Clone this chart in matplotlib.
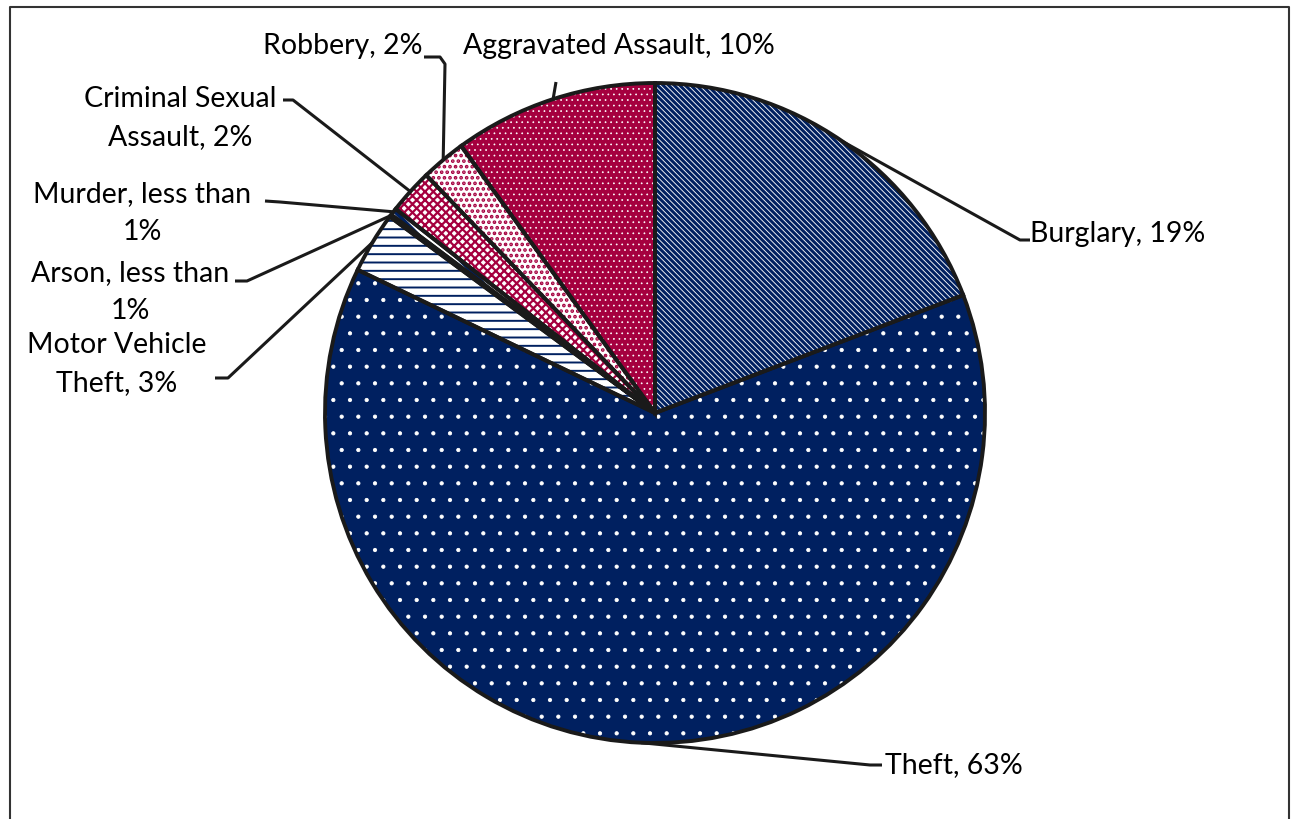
import numpy as np
import matplotlib
matplotlib.use("Agg")
import matplotlib.pyplot as plt
from matplotlib.lines import Line2D

# crime shares, clockwise from 12 o'clock
crimes = ["Burglary", "Theft", "Motor Vehicle Theft", "Arson", "Murder",
          "Criminal Sexual Assault", "Robbery", "Aggravated Assault"]
shares = [19.2, 63.0, 3.0, 0.12, 0.35, 2.2, 2.2, 10.0]
labels = ["Burglary, 19%", "Theft, 63%", "Motor Vehicle\nTheft, 3%",
          "Arson, less than\n1%", "Murder, less than\n1%",
          "Criminal Sexual\nAssault, 2%", "Robbery, 2%", "Aggravated Assault, 10%"]

NAVY = "#002060"
RED = "#A5003F"
face = ["white", NAVY, "white", "white", "white", "white", "white", RED]
hatch = ["\\" * 6, ".", "--", "\\\\", "\\\\", "xxxx", "...", "..."]
hcol = [NAVY, "white", NAVY, NAVY, NAVY, RED, RED, "white"]
hlw = [2.2, 0.6, 1.4, 2.8, 2.8, 1.6, 1.8, 0.5]

plt.rcParams['font.family'] = ['Lato', 'DejaVu Sans']
plt.rcParams['hatch.linewidth'] = 1.6

W, H = 1291, 819
fig = plt.figure(figsize=(W / 100, H / 100), dpi=100)
ax = fig.add_axes([0, 0, 1, 1])

cx, cy, R = 655, H - 413, 330

# base fills
base, _ = ax.pie(shares, startangle=90, counterclock=False, center=(cx, cy), radius=R,
                 colors=face, wedgeprops=dict(linewidth=0))
# hatch overlay
hat, _ = ax.pie(shares, startangle=90, counterclock=False, center=(cx, cy), radius=R,
                wedgeprops=dict(fill=False, linewidth=0))
for w, h, c, lw in zip(hat, hatch, hcol, hlw):
    w.set_hatch(h)
    w.set_edgecolor(c)
    w.set_linewidth(0)
    if hasattr(w, "set_hatch_linewidth"):
        w.set_hatch_linewidth(lw)
# outlines
outl, _ = ax.pie(shares, startangle=90, counterclock=False, center=(cx, cy), radius=R,
                 wedgeprops=dict(fill=False, edgecolor="#1a1a1a", linewidth=2.8))

ax.set_xlim(0, W)
ax.set_ylim(0, H)
ax.axis("off")

# label text (image coords), leader path end points (image coords)
text_pos = [(1030, 234, "left"), (885, 765, "left"), (117, 364, "center"),
            (130, 292, "center"), (142, 213, "center"), (180, 118, "center"),
            (343, 46, "center"), (619, 46, "center")]
leaders = [[(1030, 240), (1020, 240)],
           [(882, 765), (870, 765)],
           [(215, 378), (228, 378)],
           [(235, 281), (247, 281)],
           [(265, 201), (280, 202)],
           [(283, 100), (293, 100)],
           [(424, 57), (440, 57), (445, 64)],
           [(556, 82)]]

for w, (tx, ty, ha), pts, lab in zip(outl, text_pos, leaders, labels):
    ang = np.deg2rad((w.theta1 + w.theta2) / 2)
    ex, ey = cx + R * np.cos(ang), cy + R * np.sin(ang)
    xs = [p[0] for p in pts] + [ex]
    ys = [H - p[1] for p in pts] + [ey]
    ax.plot(xs, ys, color="#1a1a1a", linewidth=2.2, solid_capstyle="butt")
    ax.text(tx, H - ty, lab, ha=ha, va="center", fontsize=20.5, color="black",
            linespacing=1.6)

# outer frame
fig.add_artist(Line2D([10 / W, 10 / W, 1289 / W, 1289 / W],
                      [-0.1, 1 - 7 / H, 1 - 7 / H, -0.1],
                      transform=fig.transFigure, color="#333333", linewidth=1.5))

fig.savefig("out.png", dpi=100)
